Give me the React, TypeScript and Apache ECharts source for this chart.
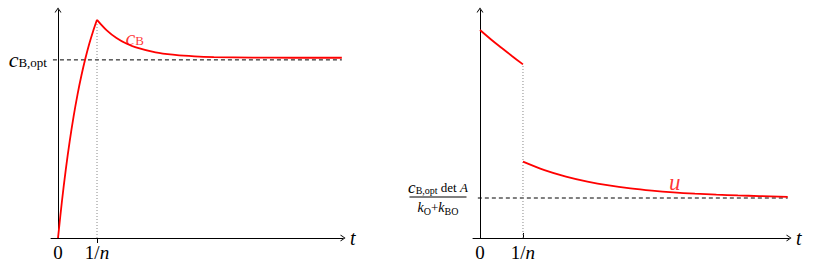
import React, { useEffect, useRef } from 'react';
import * as echarts from 'echarts';

// Tick values / labels (x in units of 1/n)
const xTickValues = [0, 1];
const xTickLabels = ['0', '1/n'];

// Left panel: c_B(t), in units of c_B,opt
const cbRiseX = [0, 0.1, 0.2, 0.3, 0.4, 0.5, 0.6, 0.7, 0.8, 0.9, 1.0];
const cbRiseY = [0, 0.205, 0.385, 0.544, 0.683, 0.805, 0.912, 1.006, 1.089, 1.161, 1.225];
const cbDecayX = [1.0, 1.25, 1.5, 1.75, 2, 2.5, 3, 3.5, 4, 5, 6, 7.28];
const cbDecayY = [1.225, 1.166, 1.123, 1.092, 1.07, 1.042, 1.028, 1.02, 1.016, 1.013, 1.012, 1.012];
const cbOptLevel = 1;
const cbLabelPos = [1.97, 1.124];

// Right panel: u(t), in units of the steady-state level
const uSeg1X = [0, 0.25, 0.5, 0.75, 1];
const uSeg1Y = [5.2, 4.97, 4.755, 4.545, 4.34];
const uSeg2X = [1, 1.5, 2, 2.5, 3, 3.5, 4, 4.5, 5, 5.5, 6, 6.5, 7.16];
const uSeg2Y = [1.91, 1.698, 1.536, 1.411, 1.315, 1.242, 1.186, 1.142, 1.109, 1.084, 1.064, 1.049, 1.03];
const uLevel = 1;
const uLabelPos = [4.53, 1.4];

const zip = (xs: number[], ys: number[]) => xs.map((x, i) => [x, ys[i]]);

const FONT = '"Liberation Serif", "DejaVu Serif", serif';
const RED = '#ff0000';
const ARROW = 'path://M0,5 L3.5,0 L7,5 L6,5 L3.5,1.4 L1,5 Z';

export default function App() {
  const ref = useRef<HTMLDivElement>(null);
  useEffect(() => {
    document.body.style.margin = '0';
    const chart = echarts.init(ref.current!, null, { renderer: 'svg' });

    const xLabelRich = {
      r: { fontFamily: FONT, fontSize: 19, color: '#000' },
      i: { fontFamily: FONT, fontSize: 19, fontStyle: 'italic', color: '#000' },
    };
    const xFormatter = (v: number) => {
      const idx = xTickValues.indexOf(v);
      const s = idx >= 0 ? xTickLabels[idx] : '';
      if (s.includes('/')) {
        const [a, b] = s.split('/');
        return `{r|${a}/}{i|${b}}`;
      }
      return `{r|${s}}`;
    };

    const makeX = (gridIndex: number, min: number, max: number, tickInside: boolean) => ({
      type: 'value',
      gridIndex,
      min,
      max,
      name: 't',
      nameLocation: 'end',
      nameGap: 7,
      nameTextStyle: { fontFamily: FONT, fontSize: 20, fontStyle: 'italic', color: '#000' },
      axisLine: {
        onZero: false,
        symbol: ['none', ARROW],
        symbolSize: [7, 5],
        lineStyle: { color: '#000', width: 1 },
      },
      axisTick: {
        show: true,
        customValues: [1],
        inside: tickInside,
        length: 5,
        lineStyle: { color: '#000', width: 1 },
      },
      axisLabel: {
        show: true,
        customValues: xTickValues,
        margin: 5,
        formatter: xFormatter,
        rich: xLabelRich,
      },
      splitLine: { show: false },
    });

    const makeY = (gridIndex: number, max: number, label: any) => ({
      type: 'value',
      gridIndex,
      min: 0,
      max,
      axisLine: {
        onZero: true,
        symbol: ['none', ARROW],
        symbolSize: [7, 5],
        lineStyle: { color: '#000', width: 1 },
      },
      axisTick: { show: false },
      axisLabel: label,
      splitLine: { show: false },
    });

    const leftYLabel = {
      show: true,
      customValues: [cbOptLevel],
      margin: 4,
      formatter: () => '{c|c}{s|B,opt}',
      rich: {
        c: { fontFamily: FONT, fontSize: 22, fontStyle: 'italic', color: '#000', lineHeight: 18 },
        s: { fontFamily: FONT, fontSize: 13, color: '#000', height: 12, lineHeight: 18, verticalAlign: 'bottom' },
      },
    };

    const rightYLabel = {
      show: true,
      customValues: [uLevel],
      margin: 35,
      align: 'center',
      verticalAlign: 'middle',
      formatter: () =>
        '{nc|c}{ns|B,opt}{nt| det }{ni|A}\n{bar| }\n{dk|k}{ds|O}{dt|+}{dk|k}{ds|BO}',
      rich: {
        nc: { fontFamily: FONT, fontSize: 17, fontStyle: 'italic', color: '#000', lineHeight: 14, align: 'center' },
        ns: { fontFamily: FONT, fontSize: 10, color: '#000', height: 9, lineHeight: 14, verticalAlign: 'bottom', align: 'center' },
        nt: { fontFamily: FONT, fontSize: 13, color: '#000', lineHeight: 14, align: 'center' },
        ni: { fontFamily: FONT, fontSize: 13, fontStyle: 'italic', color: '#000', lineHeight: 14, align: 'center' },
        bar: { width: 57, height: 1, lineHeight: 5, fontSize: 1, backgroundColor: '#000', align: 'center' },
        dk: { fontFamily: FONT, fontSize: 14, fontStyle: 'italic', color: '#000', lineHeight: 16, align: 'center' },
        ds: { fontFamily: FONT, fontSize: 10, color: '#000', height: 9, lineHeight: 16, verticalAlign: 'bottom', align: 'center' },
        dt: { fontFamily: FONT, fontSize: 13, color: '#000', lineHeight: 16, align: 'center' },
      },
    };

    const redLine = (xi: number, data: number[][]) => ({
      type: 'line',
      xAxisIndex: xi,
      yAxisIndex: xi,
      data,
      smooth: 0.35,
      symbol: 'none',
      lineStyle: { color: RED, width: 1.8 },
      z: 5,
    });
    const refLine = (xi: number, data: number[][], dash: number[], color: string, width: number) => ({
      type: 'line',
      xAxisIndex: xi,
      yAxisIndex: xi,
      data,
      symbol: 'none',
      lineStyle: { color, width, type: dash },
      z: 3,
    });
    const textMark = (xi: number, pos: number[], fmt: string, rich: any) => ({
      type: 'scatter',
      xAxisIndex: xi,
      yAxisIndex: xi,
      data: [pos],
      symbolSize: 1,
      itemStyle: { color: 'rgba(0,0,0,0)' },
      label: { show: true, position: 'inside', formatter: fmt, rich },
      z: 6,
    });

    const cbPeak = cbRiseY[cbRiseY.length - 1];
    const uJumpTop = uSeg1Y[uSeg1Y.length - 1];

    chart.setOption({
      animation: false,
      grid: [
        { left: 51, right: 475, top: 10, bottom: 39, containLabel: false, outerBoundsMode: 'none' },
        { left: 473, right: 29, top: 10, bottom: 39, containLabel: false, outerBoundsMode: 'none' },
      ],
      xAxis: [makeX(0, -0.18, 7.31, false), makeX(1, -0.163, 7.19, true)],
      yAxis: [makeY(0, 1.28, leftYLabel), makeY(1, 5.7, rightYLabel)],
      series: [
        redLine(0, zip(cbRiseX, cbRiseY)),
        redLine(0, zip(cbDecayX, cbDecayY)),
        refLine(0, [[-0.13, cbOptLevel], [cbDecayX[cbDecayX.length - 1], cbOptLevel]], [4, 3], '#000', 1),
        refLine(0, [[1, 0], [1, cbPeak]], [1, 2], '#888', 1),
        textMark(0, cbLabelPos, '{c|c}{s|B}', {
          c: { fontFamily: FONT, fontSize: 22, fontStyle: 'italic', color: RED, lineHeight: 18 },
          s: { fontFamily: FONT, fontSize: 13, color: RED, height: 12, lineHeight: 18, verticalAlign: 'bottom' },
        }),
        redLine(1, zip(uSeg1X, uSeg1Y)),
        redLine(1, zip(uSeg2X, uSeg2Y)),
        refLine(1, [[-0.05, uLevel], [uSeg2X[uSeg2X.length - 1], uLevel]], [4, 3], '#000', 1),
        refLine(1, [[1, 0], [1, uJumpTop]], [1, 2], '#888', 1),
        textMark(1, uLabelPos, '{u|u}', {
          u: { fontFamily: FONT, fontSize: 23, fontStyle: 'italic', color: RED },
        }),
      ],
    });
    return () => chart.dispose();
  }, []);
  return <div ref={ref} style={{ width: 818, height: 277 }} />;
}
